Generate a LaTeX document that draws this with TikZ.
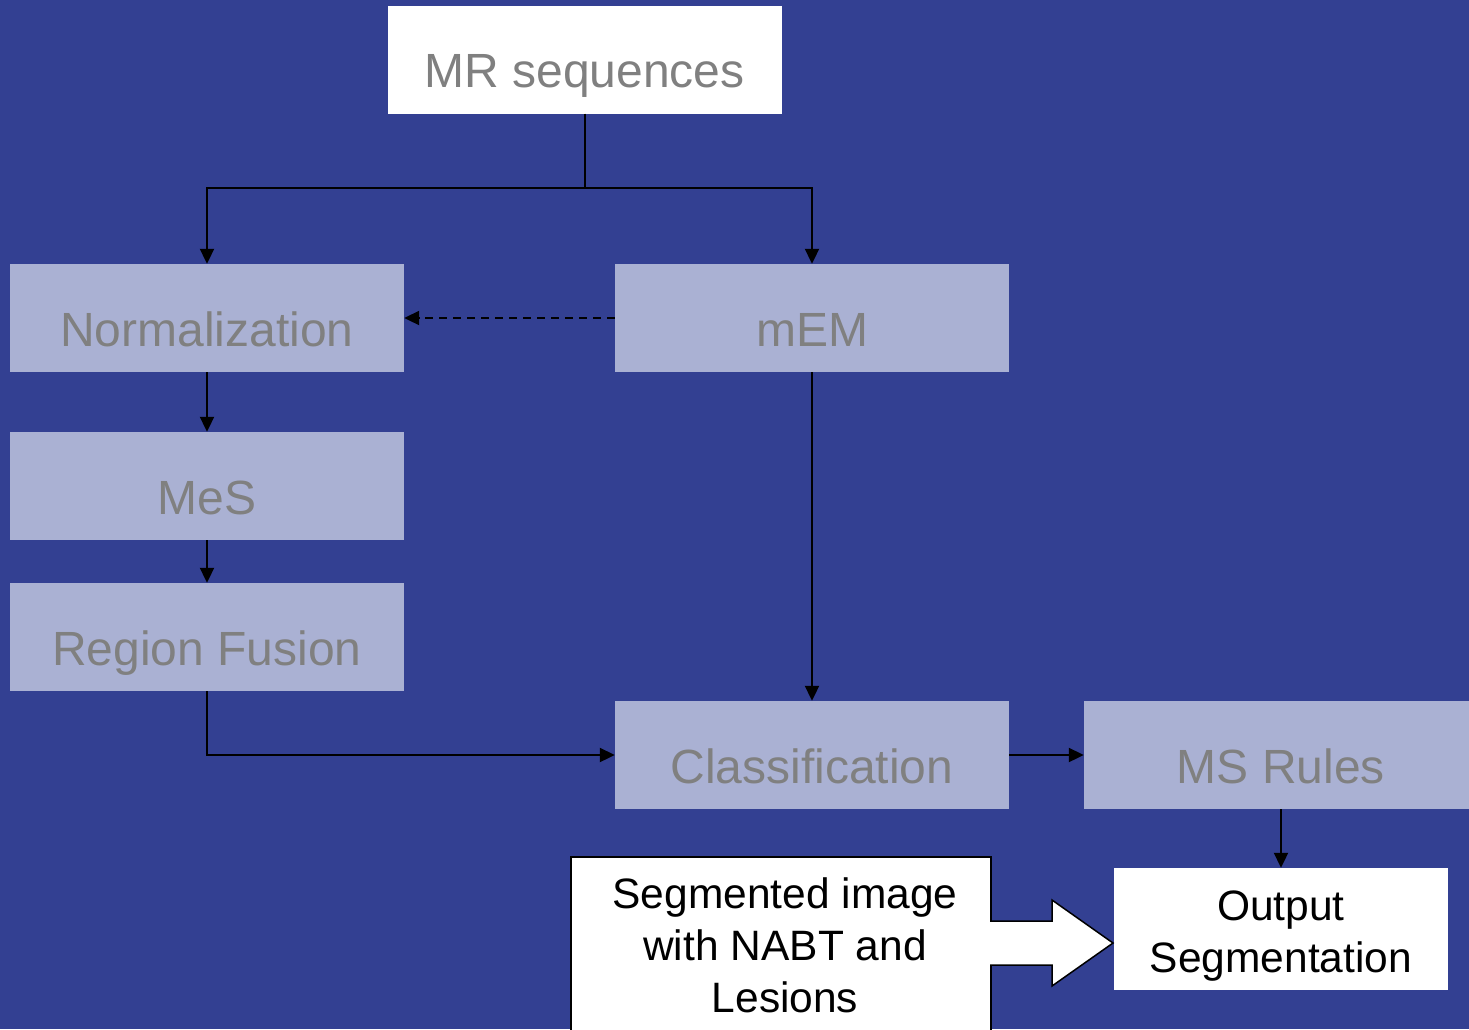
\documentclass[tikz,border=0pt]{standalone}
\usepackage{fontspec}
\setmainfont{Liberation Sans}
\usetikzlibrary{arrows.meta}
\definecolor{bg}{HTML}{334092}
\definecolor{panel}{HTML}{AAB1D3}
\definecolor{dimtext}{HTML}{808080}

\begin{document}
\begin{tikzpicture}[x=1pt,y=-1pt,
  stage/.style={fill=panel, text=dimtext, minimum width=394pt, minimum height=108pt,
    inner sep=0pt, text height=56pt, text depth=0pt, font=\fontsize{48}{58}\selectfont},
  source/.style={stage, fill=white},
  plainbox/.style={fill=white, inner sep=0pt},
  caption/.style={inner sep=0pt, align=center, text=black, font=\fontsize{42.5}{52}\selectfont},
  flow/.style={line width=2pt, -{Triangle[length=15pt,width=14pt]}},
  wire/.style={line width=2pt},
  hint/.style={flow, dash pattern=on 8pt off 6pt}]

  % canvas
  \fill[bg] (0,0) rectangle (1469,1029);
  \useasboundingbox (0,0) rectangle (1469,1029);
  \clip (0,0) rectangle (1469,1029);

  % processing stages
  \node[source] (mr)    at (584.5,59.5) {MR sequences};
  \node[stage]  (norm)  at (207,318)  {Normalization};
  \node[stage]  (mem)   at (812,318)  {mEM};
  \node[stage]  (mes)   at (207,486)  {MeS};
  \node[stage]  (fus)   at (207,637)  {Region Fusion};
  \node[stage]  (cls)   at (812,755)  {Classification};
  \node[stage]  (rules) at (1281,755) {MS Rules};

  % result boxes
  \node[plainbox, minimum width=334pt, minimum height=122pt] (out) at (1281,929) {};
  \node[caption, anchor=north] (outtxt) at (1281,890.5) {Output\\Segmentation};

  \node[plainbox, draw=black, line width=1.5pt, minimum width=420pt, minimum height=200pt,
        anchor=north west] (seg) at (570,856) {};
  \node[caption, anchor=north] (segtxt) at (785,877.5) {Segmented image\\with NABT and\\Lesions};

  % connectors
  \coordinate (split) at (mr.south |- 0,188);
  \draw[wire] (mr.south) -- (split);
  \draw[flow] (split) -| (norm.north);
  \draw[flow] (split) -| (mem.north);
  \draw[hint] (mem.west) -- (norm.east);
  \draw[flow] (norm.south) -- (mes.north);
  \draw[flow] (mes.south) -- (fus.north);
  \draw[flow] (fus.south) |- (cls.west);
  \draw[flow] (mem.south) -- (cls.north);
  \draw[flow] (cls.east) -- (rules.west);
  \draw[flow] (rules.south) -- (out.north);

  % block arrow from the segmented image to the output
  \fill[white] (990,921) -- (1052,921) -- (1052,900) -- (1113,943)
               -- (1052,986) -- (1052,965) -- (990,965) -- cycle;
  \draw[line width=1.5pt, line join=miter]
       (990,921) -- (1052,921) -- (1052,900) -- (1113,943)
       -- (1052,986) -- (1052,965) -- (990,965);
\end{tikzpicture}
\end{document}
